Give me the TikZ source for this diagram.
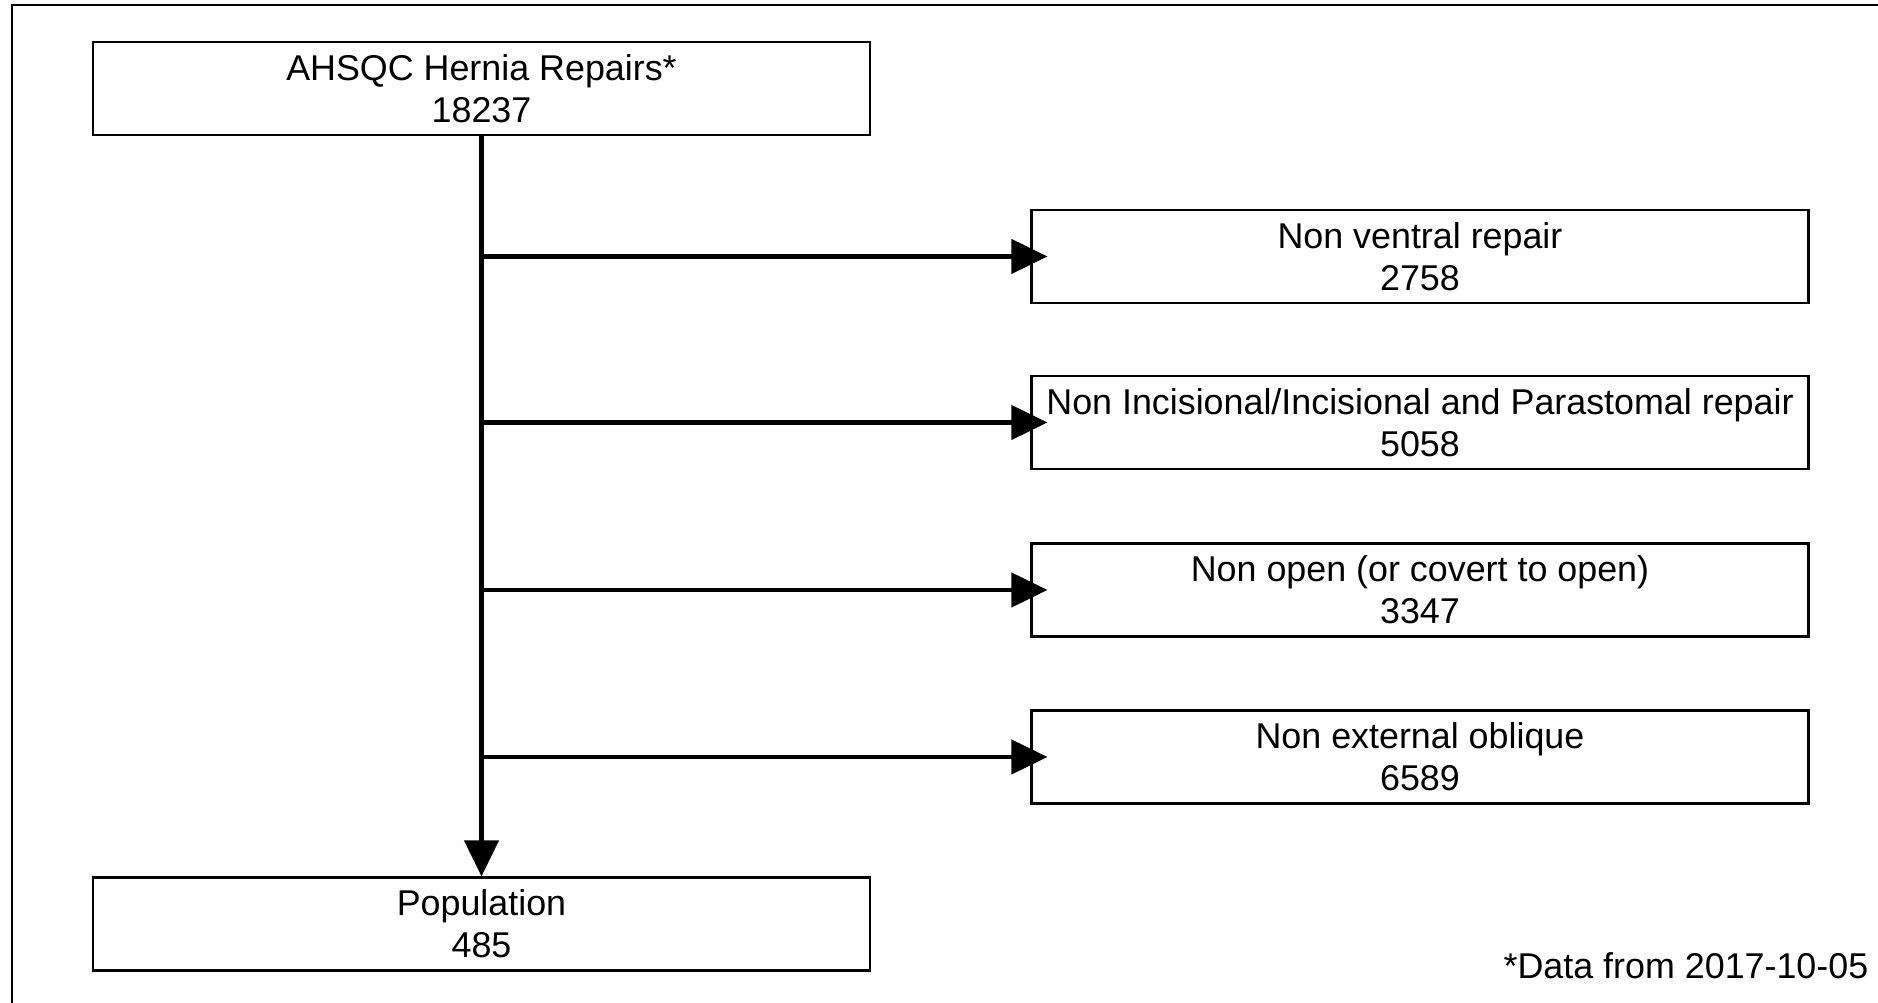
\documentclass[tikz,border=0pt]{standalone}
\usepackage{fontspec}
\setmainfont{Liberation Sans}
\usetikzlibrary{arrows.meta,positioning}

\begin{document}
\begin{tikzpicture}[
  font=\fontsize{10.2}{12}\selectfont,
  >={Triangle[length=0.36cm,width=0.34cm]},
  box/.style={rectangle, draw=black, line width=0.6pt, fill=white, minimum width=7.77cm, minimum height=0.93cm, align=center, inner sep=1pt},
  arrow/.style={->, line width=1.2pt, draw=black},
  frame/.style={draw=black, line width=0.6pt}
]
\useasboundingbox (0,0) rectangle (18.78,-10.03);
\draw[frame] (18.78,-0.05) -| (0.12,-10.03);
% flow boxes
\node[box] (repairs) at (4.815,-0.885) {AHSQC Hernia Repairs*\\18237};
\node[box] (nonventral) at (14.20,-2.565) {Non ventral repair\\2758};
\node[box] (nonincisional) at (14.20,-4.225) {Non Incisional/Incisional and Parastomal repair\\5058};
\node[box] (nonopen) at (14.20,-5.90) {Non open (or covert to open)\\3347};
\node[box] (nonoblique) at (14.20,-7.57) {Non external oblique\\6589};
\node[box] (population) at (4.815,-9.24) {Population\\485};
\node[anchor=base east, inner sep=0pt] (note) at (18.69,-9.785) {*Data from 2017-10-05};
% connectors
\draw[arrow] (repairs) -- (population);
\foreach \n in {nonventral,nonincisional,nonopen,nonoblique}
  \draw[arrow, shorten >=-0.17cm] (repairs.south |- \n.west) -- (\n.west);
\end{tikzpicture}
\end{document}
